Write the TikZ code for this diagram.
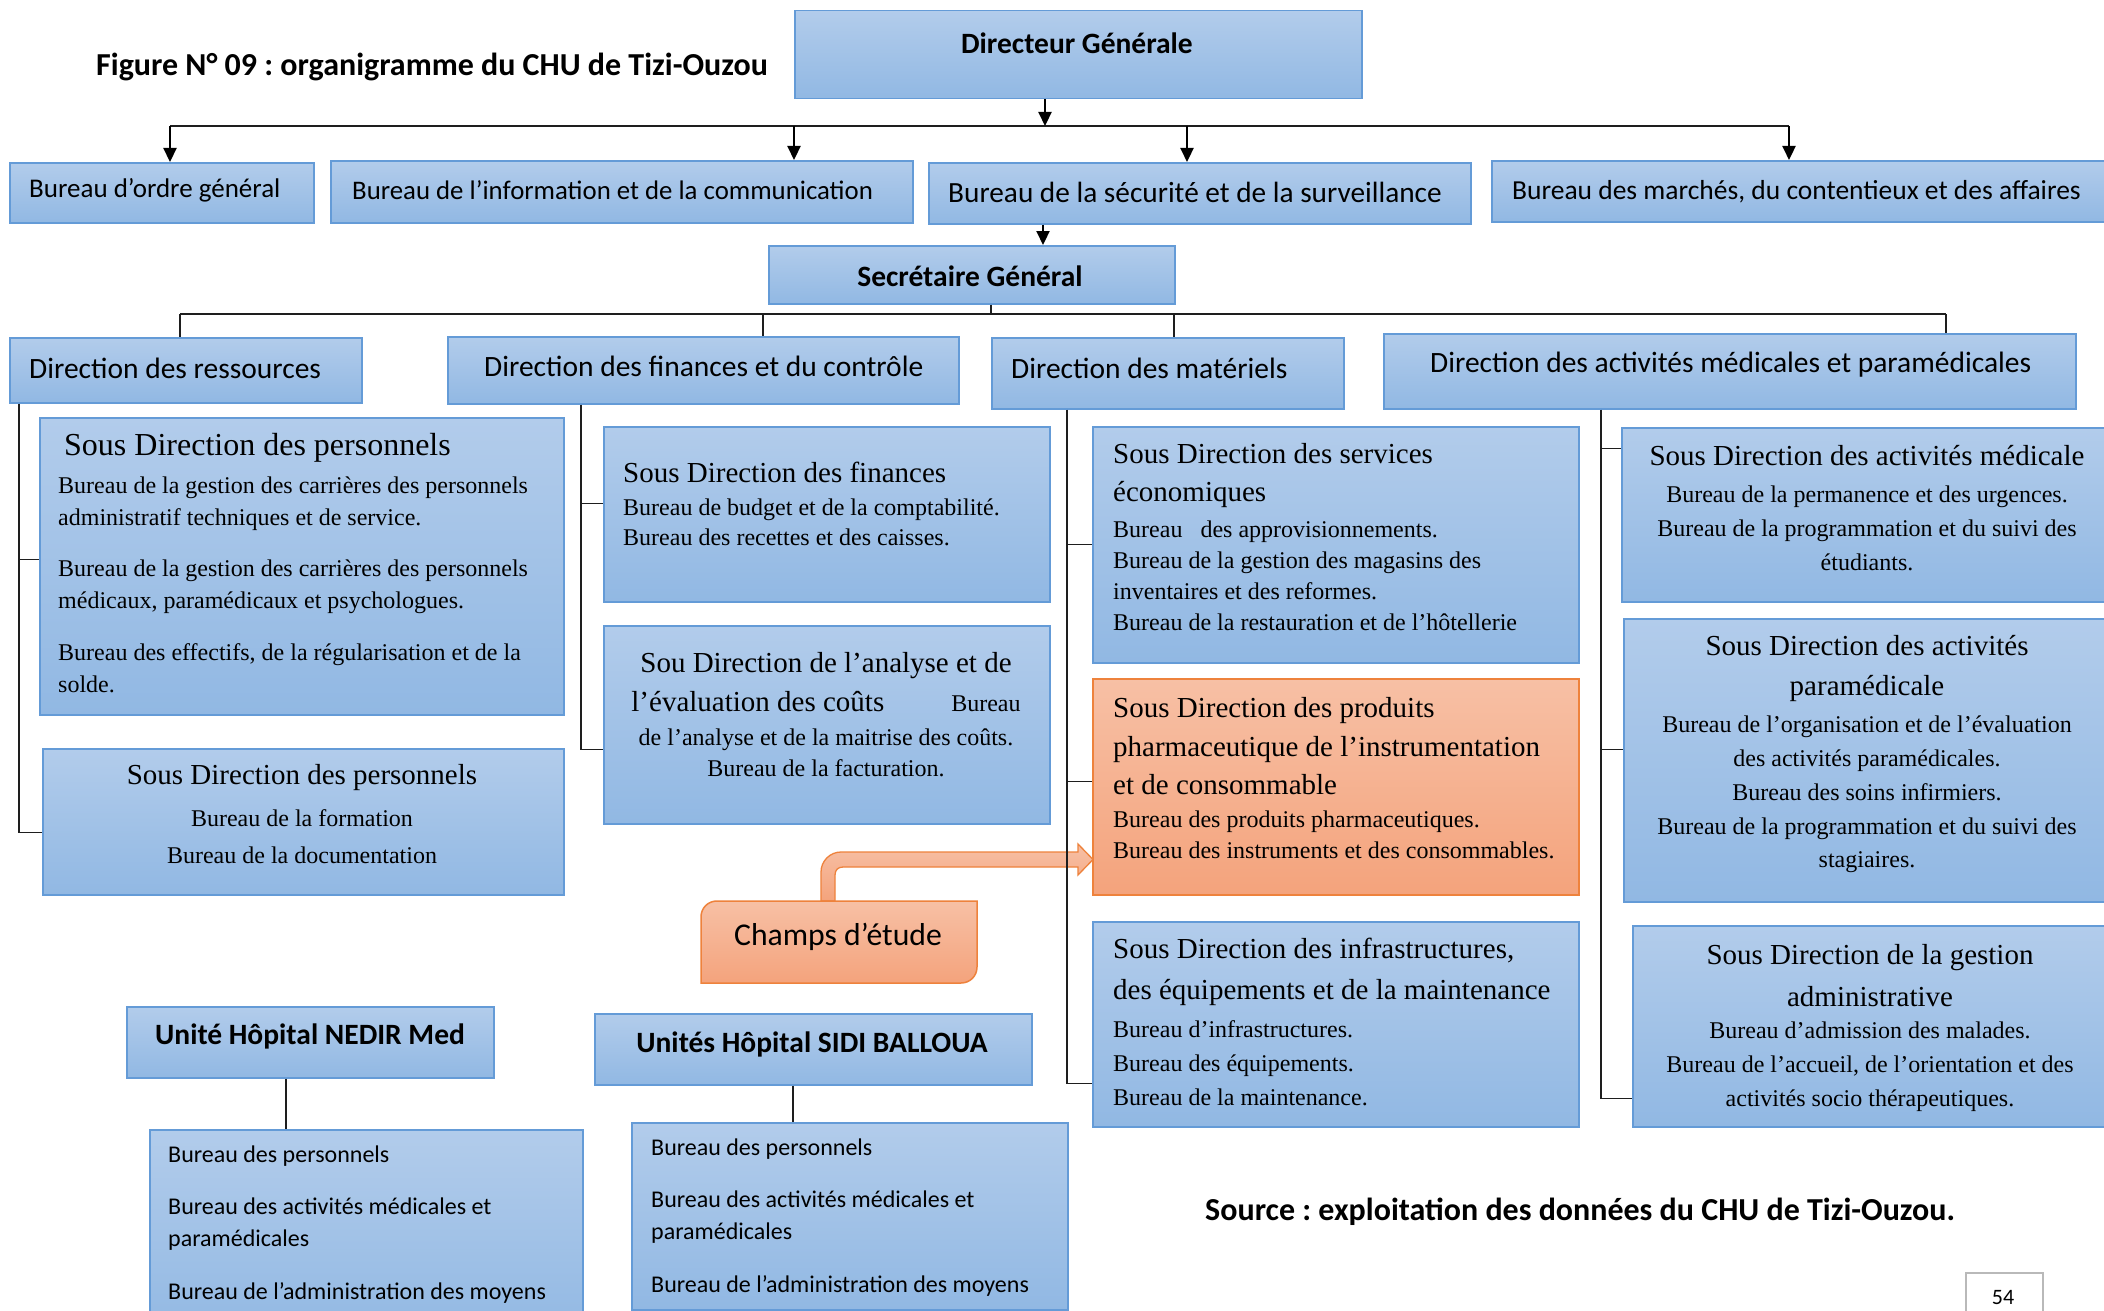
\documentclass[tikz,border=0pt]{standalone}
\usepackage{fontspec}
\setmainfont{Liberation Serif}
\newfontfamily\carl{Carlito}
\usetikzlibrary{arrows.meta}
\frenchspacing
\definecolor{btop}{RGB}{178,204,235}
\definecolor{bbot}{RGB}{145,184,227}
\definecolor{bedge}{RGB}{100,155,215}
\definecolor{otop}{RGB}{247,192,165}
\definecolor{obot}{RGB}{244,163,124}
\definecolor{oedge}{RGB}{238,130,60}
\definecolor{linec}{RGB}{30,30,30}
\definecolor{pgc}{RGB}{185,185,185}
\tikzset{
  bluebox/.style={draw=bedge, line width=1.5pt, top color=btop, bottom color=bbot, inner sep=0pt},
  orbox/.style={draw=oedge, line width=1.5pt, top color=otop, bottom color=obot, inner sep=0pt},
  arr/.style={draw=black, line width=2.2pt, -{Triangle[length=14pt,width=13pt]}},
  bus/.style={draw=linec, line width=2.2pt},
  tree/.style={draw=linec, line width=1.4pt},
  txt/.style={inner sep=0pt},
  cb/.style={txt, font=\carl\bfseries\fontsize{29.5}{35}\selectfont},
  cr/.style={txt, font=\carl\fontsize{#1}{#1}\selectfont},
  ttl/.style={txt, font=\fontsize{29}{#1}\selectfont},
  bdy/.style={txt, font=\fontsize{24}{#1}\selectfont},
}
\newcommand\mybox[6]{\node[#1, anchor=north west, minimum width=\the\numexpr#4-#2\relax pt, minimum height=\the\numexpr#5-#3\relax pt] (#6) at (#2,#3) {};}
\begin{document}
\begin{tikzpicture}[x=1pt, y=-1pt]
\useasboundingbox (0,0) rectangle (2104,1311);
\clip (0,0) rectangle (2104,1311);
\fill[white] (0,0) rectangle (2104,1311);

% ---------- boxes ----------
\mybox{bluebox}{794}{10}{1361}{98}{dg}
\mybox{bluebox}{9}{162}{313}{222}{bo}
\mybox{bluebox}{330}{160}{912}{222}{bi}
\mybox{bluebox}{928}{162}{1470}{223}{bs}
\mybox{bluebox}{1491}{160}{2115}{221}{bm}
\mybox{bluebox}{768}{245}{1174}{303}{sg}
\mybox{bluebox}{9}{337}{361}{402}{dr}
\mybox{bluebox}{447}{336}{958}{403}{df}
\mybox{bluebox}{991}{337}{1343}{408}{dm}
\mybox{bluebox}{1383}{333}{2075}{408}{da}
\mybox{bluebox}{39}{417}{563}{714}{sp1}
\mybox{bluebox}{42}{748}{563}{894}{sp2}
\mybox{bluebox}{603}{426}{1049}{601}{sf}
\mybox{bluebox}{603}{625}{1049}{823}{sa}
\mybox{bluebox}{1092}{426}{1578}{662}{se}
\mybox{orbox}{1092}{678}{1578}{894}{spp}
\mybox{bluebox}{1092}{921}{1578}{1126}{si}
\mybox{bluebox}{1621}{427}{2115}{601}{sm}
\mybox{bluebox}{1623}{618}{2115}{901}{spm}
\mybox{bluebox}{1632}{925}{2115}{1126}{sga}
\mybox{bluebox}{126}{1006}{493}{1077}{un}
\mybox{bluebox}{149}{1129}{582}{1340}{unb}
\mybox{bluebox}{594}{1013}{1031}{1084}{us}
\mybox{bluebox}{631}{1122}{1067}{1309}{usb}
\node[draw=pgc, line width=1.5pt, fill=white, anchor=north west, minimum width=77pt, minimum height=70pt] (pg) at (1965,1272) {};

% ---------- Champs d'etude with bent arrow ----------
\path[draw=oedge, line width=1.3pt, top color=otop, bottom color=obot]
  (821,901) -- (821,872) .. controls (821,861) and (830,852) .. (841,852)
  -- (1078,852) -- (1078,844) -- (1093,859.5) -- (1078,875) -- (1078,867)
  -- (843,867) .. controls (838,867) and (835,870) .. (835,875) -- (835,901) -- cycle;
\path[draw=oedge, line width=1.5pt, top color=otop, bottom color=obot]
  (701,983) -- (701,917) .. controls (701,908) and (708,901) .. (717,901)
  -- (977,901) -- (977,967) .. controls (977,976) and (970,983) .. (961,983) -- cycle;
\node[cr=31.7] (champs) at (838,937) {Champs d’étude};

% ---------- connectors ----------
\coordinate (j0) at (1045,126);
\coordinate (j1) at (170,126);
\coordinate (j2) at (794,126);
\coordinate (j3) at (1187,126);
\coordinate (j4) at (1789,126);
\draw[bus] (j1) -- (j4);
\draw[arr] (dg.south -| j0) -- (j0);
\draw[arr] (j1) -- (j1 |- bo.north);
\draw[arr] (j2) -- (j2 |- bi.north);
\draw[arr] (j3) -- (j3 |- bs.north);
\draw[arr] (j4) -- (j4 |- bm.north);
\coordinate (j5) at (1043,0);
\draw[arr] (bs.south -| j5) -- (sg.north -| j5);

\coordinate (k0) at (991,314);
\coordinate (k1) at (180,314);
\coordinate (k2) at (763,314);
\coordinate (k3) at (1174,314);
\coordinate (k4) at (1946,314);
\draw[tree, line width=1.8pt] (sg.south -| k0) -- (k0);
\draw[tree, line width=1.8pt] (k1) -- (k4);
\draw[tree, line width=1.8pt] (k1) -- (k1 |- dr.north);
\draw[tree, line width=1.8pt] (k2) -- (k2 |- df.north);
\draw[tree, line width=1.8pt] (k3) -- (k3 |- dm.north);
\draw[tree, line width=1.8pt] (k4) -- (k4 |- da.north);

% entry points on the sub-direction boxes
\coordinate (e1) at ([yshift=6.5pt]sp1.west);
\coordinate (e2) at ([yshift=-11pt]sp2.west);
\coordinate (e3) at ([yshift=10.5pt]sf.west);
\coordinate (e4) at ([yshift=-25pt]sa.west);
\coordinate (e5) at (se.west);
\coordinate (e6) at ([yshift=5pt]spp.west);
\coordinate (e7) at ([yshift=-59.5pt]si.west);
\coordinate (e8) at ([yshift=66pt]sm.west);
\coordinate (e9) at ([yshift=10.5pt]spm.west);
\coordinate (e10) at ([yshift=-72.5pt]sga.west);

\coordinate (vr) at (19,0);
\draw[tree] (dr.south -| vr) -- (vr |- e2) -- (e2);
\draw[tree] (vr |- e1) -- (e1);
\coordinate (vf) at (581,0);
\draw[tree] (df.south -| vf) -- (vf |- e4) -- (e4);
\draw[tree] (vf |- e3) -- (e3);
\coordinate (vm) at (1067,0);
\draw[tree] (dm.south -| vm) -- (vm |- e7) -- (e7);
\draw[tree] (vm |- e5) -- (e5);
\draw[tree] (vm |- e6) -- (e6);
\coordinate (va) at (1601,0);
\draw[tree] (da.south -| va) -- (va |- e10) -- (e10);
\draw[tree] (va |- e8) -- (e8);
\draw[tree] (va |- e9) -- (e9);

\coordinate (vn) at (286,0);
\draw[tree] (un.south -| vn) -- (unb.north -| vn);
\coordinate (vs) at (793,0);
\draw[tree] (us.south -| vs) -- (usb.north -| vs);

% ---------- texts ----------
\node[txt, anchor=west, font=\carl\bfseries\fontsize{32}{38}\selectfont] (title) at (96,67) {Figure N° 09 : organigramme du CHU de Tizi-Ouzou};
\node[cb] (tdg) at (1077,43) {Directeur Générale};
\node[cr=27, anchor=west] (tbo) at (29,190) {Bureau d’ordre général};
\node[cr=26.8, anchor=west] (tbi) at (352,190) {Bureau de l’information et de la communication};
\node[cr=29.3, anchor=west] (tbs) at (948,192) {Bureau de la sécurité et de la surveillance};
\node[cr=27.5, anchor=west] (tbm) at (1512,192) {Bureau des marchés, du contentieux et des affaires};
\node[cb] (tsg) at (970,276) {Secrétaire Général};
\node[cr=29.5, anchor=west] (tdr) at (29,368) {Direction des ressources};
\node[cr=29.5, anchor=west] (tdf) at (484,366) {Direction des finances et du contrôle};
\node[cr=29.5, anchor=west] (tdm) at (1011,368) {Direction des matériels};
\node[cr=29.5, anchor=west] (tda) at (1430,365) {Direction des activités médicales et paramédicales};

% sous direction des personnels 1
\node[txt, anchor=west, font=\fontsize{32}{38}\selectfont] (tsp1) at (64,448) {Sous Direction des personnels};
\node[bdy=32, anchor=west, align=left] (bsp1) at (58,585) {Bureau de la gestion des carrières des personnels\\ administratif techniques et de service.\\[19pt] Bureau de la gestion des carrières des personnels\\ médicaux, paramédicaux et psychologues.\\[20pt] Bureau des effectifs, de la régularisation et de la\\ solde.};
% sous direction des personnels 2
\node[ttl=35] (tsp2) at (302,778) {Sous Direction des personnels};
\node[bdy=37, align=center] (bsp2) at (302,836.5) {Bureau de la formation\\ Bureau de la documentation};
% finances
\node[ttl=35, anchor=west] (tsf) at (623,472) {Sous Direction des finances};
\node[bdy=30, anchor=west, align=left] (bsf) at (623,522) {Bureau de budget et de la comptabilité.\\ Bureau des recettes et des caisses.};
% analyse
\node[ttl=39, align=center] (tsa) at (826,682.5) {Sou Direction de l’analyse et de\\ l’évaluation des coûts\hspace{67pt}{\fontsize{24}{30}\selectfont Bureau}};
\node[bdy=31, align=center] (bsa) at (826,752.5) {de l’analyse et de la maitrise des coûts.\\ Bureau de la facturation.};
% services economiques
\node[ttl=38, anchor=west, align=left] (tse) at (1113,476) {Sous Direction des services\\ économiques};
\node[bdy=31, anchor=west, align=left] (bse) at (1113,575.5) {Bureau\hspace{12pt} des approvisionnements.\\ Bureau de la gestion des magasins des\\ inventaires et des reformes.\\ Bureau de la restauration et de l’hôtellerie};
% produits
\node[ttl=38.5, anchor=west, align=left] (tspp) at (1113,746.5) {Sous Direction des produits\\ pharmaceutique de l’instrumentation\\ et de consommable};
\node[bdy=31, anchor=west, align=left] (bspp) at (1113,834.5) {Bureau des produits pharmaceutiques.\\ Bureau des instruments et des consommables.};
% infrastructures
\node[ttl=41, anchor=west, align=left] (tsi) at (1113,971.5) {Sous Direction des infrastructures,\\ des équipements et de la maintenance};
\node[bdy=34, anchor=west, align=left] (bsi) at (1113,1063) {Bureau d’infrastructures.\\ Bureau des équipements.\\ Bureau de la maintenance.};
% activites medicale
\node[ttl=35] (tsm) at (1867,456) {Sous Direction des activités médicale};
\node[bdy=34, align=center] (bsm) at (1867,528) {Bureau de la permanence et des urgences.\\ Bureau de la programmation et du suivi des\\ étudiants.};
% activites paramedicale
\node[ttl=40, align=center] (tspm) at (1867,668) {Sous Direction des activités\\ paramédicale};
\node[bdy=33.75, align=center] (bspm) at (1867,794.5) {Bureau de l’organisation et de l’évaluation\\ des activités paramédicales.\\ Bureau des soins infirmiers.\\ Bureau de la programmation et du suivi des\\ stagiaires.};
% gestion administrative
\node[ttl=42, align=center] (tsga) at (1870,976) {Sous Direction de la gestion\\ administrative};
\node[bdy=34, align=center] (bsga) at (1870,1067) {Bureau d’admission des malades.\\ Bureau de l’accueil, de l’orientation et des\\ activités socio thérapeutiques.};

% hospitals
\node[cb] (tun) at (310,1036) {Unité Hôpital NEDIR Med};
\node[txt, anchor=west, align=left, font=\carl\fontsize{24}{32}\selectfont] (tunb) at (168,1224.5) {Bureau des personnels\\[20pt] Bureau des activités médicales et\\ paramédicales\\[21pt] Bureau de l’administration des moyens};
\node[cb] (tus) at (812,1044) {Unités Hôpital SIDI BALLOUA};
\node[txt, anchor=west, align=left, font=\carl\fontsize{24}{32}\selectfont] (tusb) at (651,1217.5) {Bureau des personnels\\[20pt] Bureau des activités médicales et\\ paramédicales\\[21pt] Bureau de l’administration des moyens};

\node[txt, anchor=west, font=\carl\bfseries\fontsize{32}{38}\selectfont] (src) at (1205,1212) {Source : exploitation des données du CHU de Tizi-Ouzou.};
\node[cr=22] (tpg) at (2003,1297) {54};
\end{tikzpicture}
\end{document}
